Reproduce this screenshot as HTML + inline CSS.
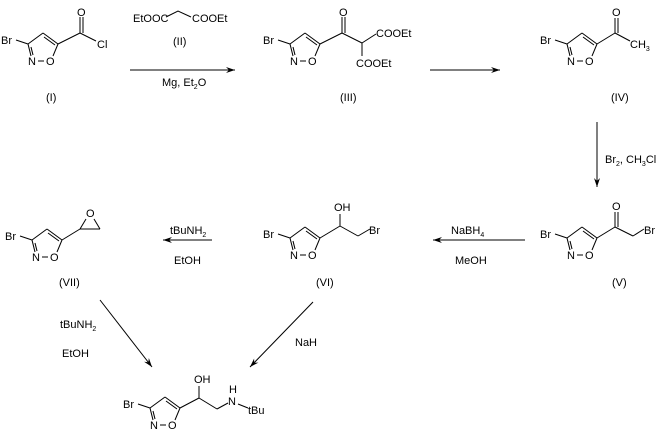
<!DOCTYPE html><html><head><style>body{margin:0;background:#fff}svg{display:block}text{font-family:"Liberation Sans",sans-serif;font-size:11px;fill:#000}</style></head><body>
<svg width="662" height="440" viewBox="0 0 662 440" xmlns="http://www.w3.org/2000/svg" stroke="#000" stroke-width="1" fill="none">
<defs>
<g id="ring">
<line x1="-12" y1="-4" x2="0" y2="0"/>
<line x1="0" y1="0" x2="15" y2="-11"/>
<line x1="15" y1="-11" x2="30" y2="0"/>
<line x1="16" y1="-7" x2="27" y2="1"/>
<line x1="0" y1="0" x2="3" y2="12"/>
<line x1="3" y1="3" x2="5" y2="11"/>
<line x1="10" y1="17" x2="16" y2="17"/>
<line x1="25" y1="12" x2="30" y2="0"/>
<text x="-27" y="0" stroke="none">Br</text>
<text x="0" y="21" stroke="none">N</text>
<text x="18" y="21" stroke="none">O</text>
</g>
<marker id="ah" markerWidth="10" markerHeight="8" refX="9" refY="4" orient="auto" markerUnits="userSpaceOnUse"><path d="M0,1 L9,4 L0,7 L3,4z" fill="#000" stroke="none"/></marker>
</defs>
<!-- I -->
<use href="#ring" x="28" y="44"/>
<line x1="58" y1="44" x2="80" y2="33"/><line x1="80" y1="33" x2="80" y2="17"/><line x1="83" y1="33" x2="83" y2="17"/><line x1="80" y1="33" x2="96" y2="41"/>
<text x="77" y="16" stroke="none">O</text><text x="97" y="48" stroke="none">Cl</text>
<text x="46" y="101" stroke="none">(I)</text>
<!-- arrow 1 -->
<line x1="130" y1="70" x2="235" y2="70" marker-end="url(#ah)"/>
<text x="133" y="22" stroke="none">EtOOC</text><polyline points="166,17 178,11 191,17"/><text x="192" y="22" stroke="none">COOEt</text>
<text x="173" y="45" stroke="none">(II)</text>
<text x="162" y="86" stroke="none">Mg, Et<tspan font-size="7" dy="3">2</tspan><tspan dy="-3">O</tspan></text>
<!-- III -->
<use href="#ring" x="290" y="44"/>
<line x1="320" y1="44" x2="342" y2="33"/><line x1="342" y1="33" x2="342" y2="17"/><line x1="345" y1="33" x2="345" y2="17"/><line x1="342" y1="33" x2="362" y2="43"/><line x1="362" y1="43" x2="376" y2="34"/><line x1="362" y1="43" x2="362" y2="56"/>
<text x="339" y="16" stroke="none">O</text><text x="376" y="37" stroke="none">COOEt</text><text x="356" y="67" stroke="none">COOEt</text>
<text x="340" y="101" stroke="none">(III)</text>
<line x1="430" y1="70" x2="500" y2="70" marker-end="url(#ah)"/>
<!-- IV -->
<use href="#ring" x="567" y="44"/>
<line x1="597" y1="44" x2="615" y2="33"/><line x1="615" y1="33" x2="615" y2="18"/><line x1="618" y1="33" x2="618" y2="18"/><line x1="615" y1="33" x2="630" y2="41"/>
<text x="612" y="16" stroke="none">O</text><text x="630" y="48" stroke="none">CH<tspan font-size="7" dy="3">3</tspan></text>
<text x="611" y="101" stroke="none">(IV)</text>
<line x1="597" y1="122" x2="597" y2="187" marker-end="url(#ah)"/>
<text x="605" y="163" stroke="none">Br<tspan font-size="7" dy="3">2</tspan><tspan dy="-3">, CH</tspan><tspan font-size="7" dy="3">3</tspan><tspan dy="-3">Cl</tspan></text>
<!-- V -->
<use href="#ring" x="567" y="238"/>
<line x1="597" y1="238" x2="615" y2="227"/><line x1="615" y1="227" x2="615" y2="212"/><line x1="618" y1="227" x2="618" y2="212"/><line x1="615" y1="227" x2="633" y2="236"/><line x1="633" y1="236" x2="644" y2="229"/>
<text x="612" y="210" stroke="none">O</text><text x="644" y="234" stroke="none">Br</text>
<text x="612" y="286" stroke="none">(V)</text>
<line x1="525" y1="240" x2="433" y2="240" marker-end="url(#ah)"/>
<text x="451" y="234" stroke="none">NaBH<tspan font-size="7" dy="3">4</tspan></text><text x="455" y="264" stroke="none">MeOH</text>
<!-- VI -->
<use href="#ring" x="290" y="238"/>
<line x1="320" y1="238" x2="340" y2="226"/><line x1="340" y1="226" x2="340" y2="214"/><line x1="340" y1="226" x2="358" y2="236"/><line x1="358" y1="236" x2="370" y2="229"/>
<text x="334" y="211" stroke="none">OH</text><text x="369" y="234" stroke="none">Br</text>
<text x="316" y="286" stroke="none">(VI)</text>
<line x1="212" y1="240" x2="163" y2="240" marker-end="url(#ah)"/>
<text x="170" y="234" stroke="none">tBuNH<tspan font-size="7" dy="3">2</tspan></text><text x="174" y="264" stroke="none">EtOH</text>
<!-- VII -->
<use href="#ring" x="32" y="240"/>
<line x1="62" y1="240" x2="80" y2="229"/><line x1="80" y1="229" x2="100" y2="229"/><line x1="80" y1="229" x2="86" y2="219"/><line x1="100" y1="229" x2="94" y2="219"/>
<text x="86" y="217" stroke="none">O</text>
<text x="59" y="286" stroke="none">(VII)</text>
<!-- diagonals -->
<line x1="100" y1="300" x2="152" y2="367" marker-end="url(#ah)"/>
<text x="60" y="328" stroke="none">tBuNH<tspan font-size="7" dy="3">2</tspan></text><text x="62" y="357" stroke="none">EtOH</text>
<line x1="313" y1="302" x2="250" y2="367" marker-end="url(#ah)"/>
<text x="295" y="346" stroke="none">NaH</text>
<!-- final -->
<use href="#ring" x="150" y="408"/>
<line x1="180" y1="408" x2="199" y2="398"/><line x1="199" y1="398" x2="199" y2="386"/><line x1="199" y1="398" x2="217" y2="409"/><line x1="217" y1="409" x2="228" y2="403"/><line x1="238" y1="404" x2="248" y2="408"/>
<text x="194" y="383" stroke="none">OH</text><text x="228" y="405" stroke="none">N</text><text x="229" y="393" stroke="none">H</text><text x="248" y="414" stroke="none">tBu</text>
</svg>
</body></html>
